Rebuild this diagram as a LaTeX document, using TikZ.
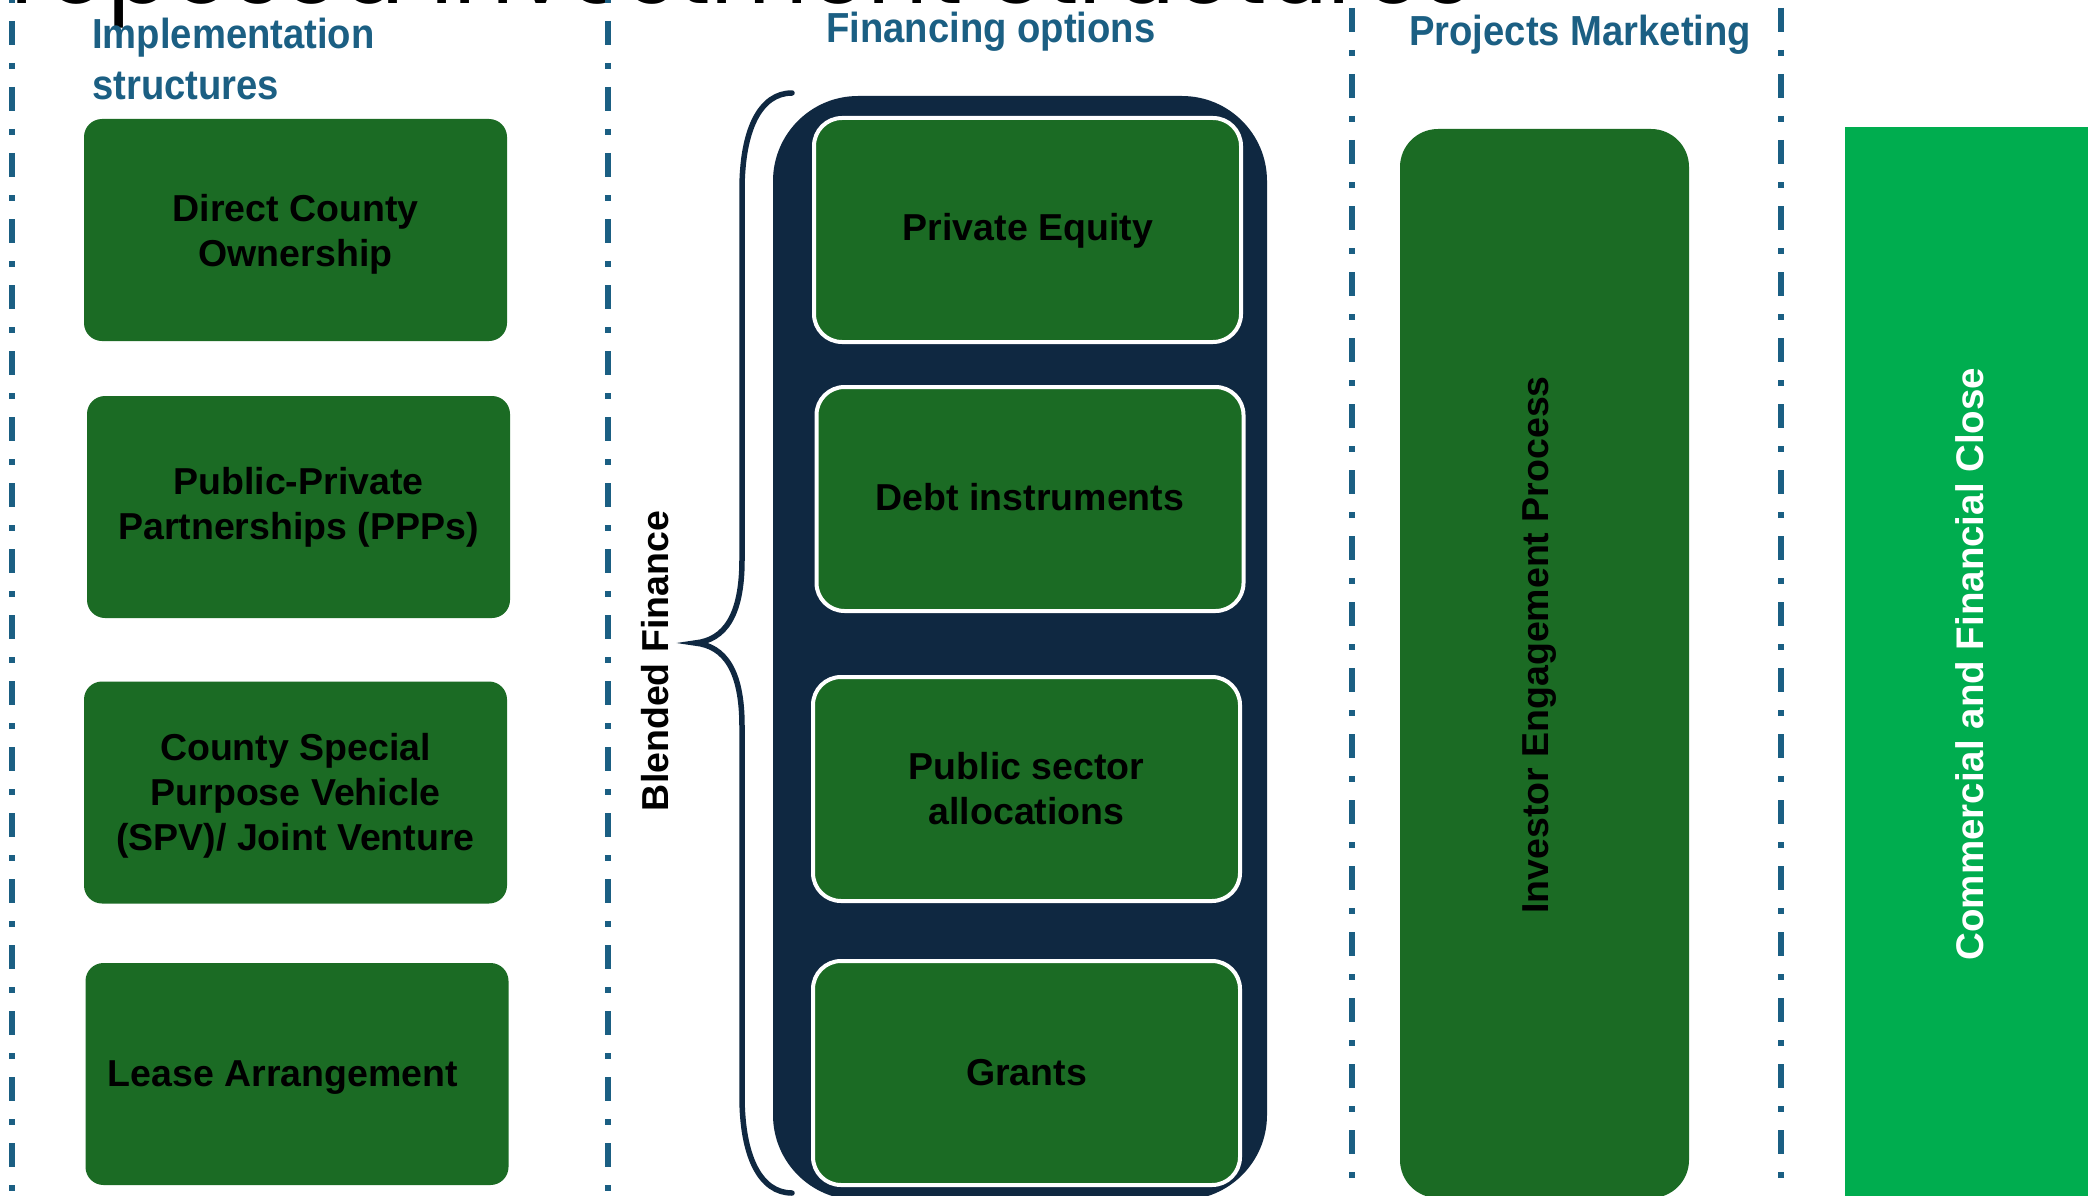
\documentclass[tikz,border=0pt]{standalone}
\usepackage{fontspec}
\setmainfont{Liberation Sans}
\newfontfamily\hdrfont[FakeStretch=0.91]{Liberation Sans}
\newfontfamily\ttlfont{Poppins}
\definecolor{hdrblue}{HTML}{1B5F83}
\definecolor{navy}{HTML}{0F2841}
\definecolor{dkgreen}{HTML}{1B6B24}
\definecolor{brgreen}{HTML}{00AD4F}
\begin{document}
\begin{tikzpicture}[x=1pt,y=-1pt,
  boxtext/.style={font=\bfseries\fontsize{37.5}{45}\selectfont, text=black, align=center},
  lbox/.style={rectangle, rounded corners=18pt, fill=dkgreen, minimum width=423pt, minimum height=222pt, inner sep=0pt, boxtext},
  finbox/.style={rectangle, rounded corners=28pt, fill=dkgreen, draw=white, line width=4pt, minimum width=427pt, minimum height=224pt, inner sep=0pt, boxtext},
  hdr/.style={font=\hdrfont\bfseries\fontsize{42}{51}\selectfont, text=hdrblue, inner sep=0pt, align=left},
  sepline/.style={draw=hdrblue, line width=6.5pt, dash pattern=on 24pt off 18pt on 6pt off 18pt},
  bracepath/.style={draw=navy, line width=5.5pt, line cap=round}
]
\useasboundingbox (0,0) rectangle (2088,1196);
\clip (0,0) rectangle (2088,1196);
\fill[white] (0,0) rectangle (2088,1196);

% title (cut off at top)
\node[anchor=base east, font=\ttlfont\fontsize{95}{105}\selectfont, inner sep=0pt] (title) at (1472,4) {Proposed Investment Structures};

% separators
\coordinate (s1t) at (12,-45);   \coordinate (s1b) at (12,1200);
\coordinate (s2t) at (608,-45);  \coordinate (s2b) at (608,1200);
\coordinate (s3t) at (1352,-58); \coordinate (s3b) at (1352,1200);
\coordinate (s4t) at (1781,-58); \coordinate (s4b) at (1781,1200);
\draw[sepline] (s1t) -- (s1b);
\draw[sepline] (s2t) -- (s2b);
\draw[sepline] (s3t) -- (s3b);
\draw[sepline] (s4t) -- (s4b);

% headers
\node[hdr, anchor=north west] (h1) at (92,18) {Implementation\\structures};
\node[hdr, anchor=base west] (h2) at (826,43) {Financing options};
\node[hdr, anchor=base west] (h3) at (1409,46) {Projects Marketing};

% implementation structures
\node[lbox] (b1) at (295.5,230) {};
\node[boxtext] (b1t) at (295.5,234) {Direct County\\Ownership};
\node[lbox] (b2) at (298.5,507) {Public-Private\\Partnerships (PPPs)};
\node[lbox] (b3) at (295.5,792.5) {};
\node[boxtext] (b3t) at (295.5,796) {County Special\\Purpose Vehicle\\(SPV)/ Joint Venture};
\node[lbox] (b4) at (297,1074) {};
\node[boxtext, anchor=center] (b4t) at (283,1078) {Lease Arrangement};

% financing container
\node[rectangle, rounded corners=85pt, fill=navy, minimum width=494pt, minimum height=1104pt, inner sep=0pt] (cont) at (1020,648) {};
\node[finbox] (f1) at (1027.5,230) {};
\node[boxtext] (f1t) at (1028,231) {Private Equity};
\node[finbox] (f2) at (1030,499) {};
\node[boxtext] (f2t) at (1030,497) {Debt instruments};
\node[finbox] (f3) at (1026.5,789) {Public sector\\allocations};
\node[finbox] (f4) at (1026.5,1073) {Grants};

% brace
\coordinate (bt) at (792,93);
\coordinate (tip) at (695,643);
\coordinate (bb) at (792,1193);
\draw[bracepath] (bt) .. controls (760,93) and (742,130) .. (742,190)
  -- (742,560) .. controls (742,615) and (725,640) .. (tip)
  .. controls (725,646) and (742,671) .. (742,726)
  -- (742,1096) .. controls (742,1156) and (760,1193) .. (bb);
\node[boxtext, rotate=90, inner sep=0pt] (blend) at (655,661) {Blended Finance};

% projects marketing
\node[rectangle, rounded corners=38pt, fill=dkgreen, minimum width=289pt, minimum height=1069pt, inner sep=0pt] (inv) at (1544.5,663.5) {};
\node[boxtext, rotate=90, inner sep=0pt] (invt) at (1540,645) {Investor Engagement Process};

% commercial close
\node[rectangle, fill=brgreen, minimum width=250pt, minimum height=1078pt, inner sep=0pt] (cfc) at (1970,666) {};
\node[boxtext, text=white, font=\bfseries\fontsize{38.5}{45}\selectfont, rotate=90, inner sep=0pt] (cfct) at (1970,664) {Commercial and Financial Close};
\end{tikzpicture}
\end{document}
